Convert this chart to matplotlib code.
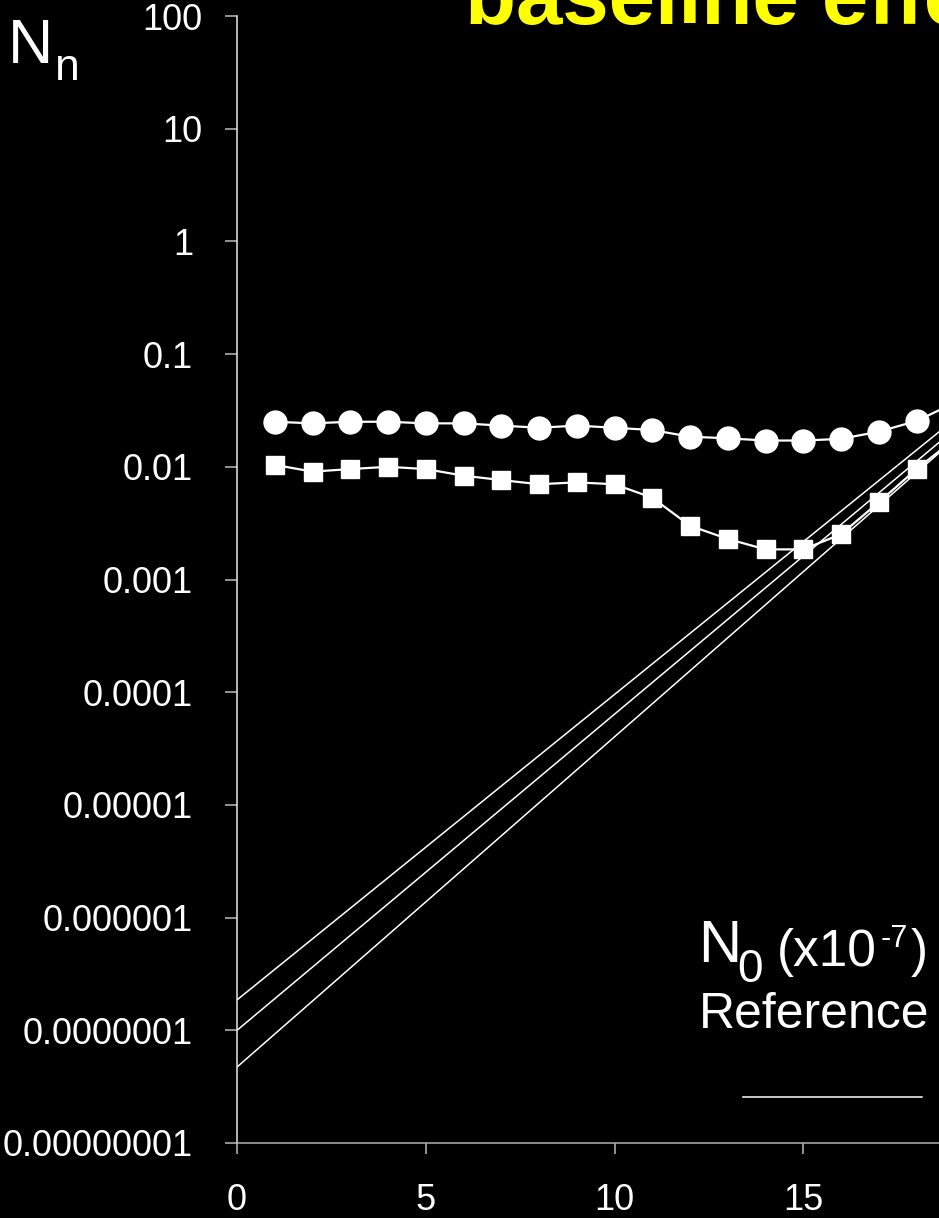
import matplotlib
matplotlib.use("Agg")
import matplotlib.pyplot as plt
import matplotlib.transforms as mtransforms
from matplotlib.lines import Line2D
import numpy as np

plt.rcParams['font.family'] = ['Liberation Sans', 'DejaVu Sans']

# values
cycles = [1, 2, 3, 4, 5, 6, 7, 8, 9, 10, 11, 12, 13, 14, 15, 16, 17, 18, 19]
circles = [0.0251, 0.0243, 0.0251, 0.0251, 0.0243, 0.0243, 0.0232, 0.0222, 0.0232,
           0.0222, 0.0212, 0.0185, 0.0179, 0.0171, 0.0171, 0.0177, 0.0205, 0.0255, 0.0368]
squares = [0.0104, 0.00906, 0.00955, 0.0100, 0.00955, 0.00834, 0.00763, 0.00700, 0.00728,
           0.00700, 0.00532, 0.00300, 0.00229, 0.00185, 0.00185, 0.00252, 0.00484, 0.00955, 0.0175]

# reference lines (N0 x 10^-7), start and end values
ref_x = [0, 20]
ref_top = [1.86e-7, 0.049]
ref_mid = [1.0e-7, 0.0407]
ref_bot = [4.72e-8, 0.0342]

yticks = [1e-8, 1e-7, 1e-6, 1e-5, 1e-4, 1e-3, 1e-2, 1e-1, 1, 10, 100]
ylabels = ["0.00000001", "0.0000001", "0.000001", "0.00001", "0.0001", "0.001",
           "0.01", "0.1", "1", "10", "100"]
xticks = [0, 5, 10, 15]

W, H = 939, 1218
fig = plt.figure(figsize=(W / 100, H / 100), dpi=100, facecolor="black")


def fx(px):
    return px / W


def fy(py):
    return 1 - py / H


x_unit = 37.75
ax = fig.add_axes([fx(237), fy(1143), 20 * x_unit / W, (1143 - 16) / H])
ax.set_facecolor("black")

for ys in (ref_top, ref_mid, ref_bot):
    ax.plot(ref_x, ys, color="white", lw=1.1, zorder=1, solid_capstyle="butt")

ax.plot(cycles, circles, color="white", lw=1.6, marker="o", ms=16.5,
        mfc="white", mec="white", zorder=3, clip_on=False)
ax.plot(cycles, squares, color="white", lw=1.6, marker="s", ms=13.5,
        mfc="white", mec="white", zorder=3, clip_on=False)

ax.set_yscale("log")
ax.set_ylim(1e-8, 100)
ax.set_xlim(0, 20)
ax.set_yticks(yticks)
ax.set_yticklabels(ylabels)
ax.minorticks_off()
ax.set_xticks(xticks)
ax.set_xticklabels([str(t) for t in xticks])

for s in ("top", "right"):
    ax.spines[s].set_visible(False)
ax.spines["left"].set_color("#e8e8e8")
ax.spines["bottom"].set_color("#b0b0b0")
ax.spines["left"].set_linewidth(1.1)
ax.spines["bottom"].set_linewidth(1.1)
ax.tick_params(axis="y", colors="#bbbbbb", labelcolor="white", length=8.5,
               width=1.1, labelsize=26, pad=23)
ax.tick_params(axis="x", colors="#bbbbbb", labelcolor="white", length=8,
               width=1.1, labelsize=26, pad=20.5)

# labels ending in "0" sit a little further right in the original
shift = mtransforms.ScaledTranslation(9 / 100, 0, fig.dpi_scale_trans)
for lab in ax.get_yticklabels():
    if lab.get_text().endswith("0"):
        lab.set_transform(lab.get_transform() + shift)

# axis label N_n
fig.text(fx(8), fy(63), "N", color="white", fontsize=45, va="baseline", ha="left")
fig.text(fx(55), fy(80), "n", color="white", fontsize=32, va="baseline", ha="left")

# title (cut off at the top/right)
fig.text(fx(465), fy(24), "baseline effect", color="#ffff00", fontsize=60,
         fontweight="bold", va="baseline", ha="left")

# legend block
fig.text(fx(698), fy(962), "N", color="white", fontsize=43, va="baseline", ha="left")
fig.text(fx(737), fy(982), "0", color="white", fontsize=33, va="baseline", ha="left")
fig.text(fx(777), fy(966), "(x10", color="white", fontsize=37, va="baseline", ha="left")
fig.text(fx(881), fy(947), "-7", color="white", fontsize=22, va="baseline", ha="left")
fig.text(fx(911), fy(966), ")", color="white", fontsize=37, va="baseline", ha="left")
fig.text(fx(699), fy(1028), "Reference", color="white", fontsize=36, va="baseline", ha="left")
fig.add_artist(Line2D([fx(743), fx(922)], [fy(1097), fy(1097)], color="white", lw=1.1))

fig.savefig("out.png", dpi=100, facecolor="black")
